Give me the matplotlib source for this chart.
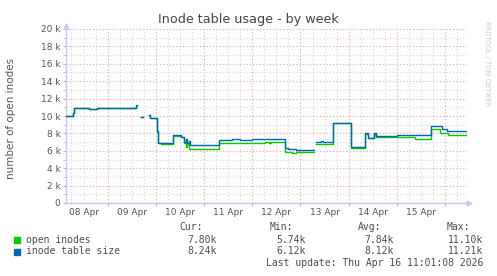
import numpy as np
import matplotlib
matplotlib.use("Agg")
import matplotlib.pyplot as plt
from matplotlib.patches import Rectangle

# hours since 08 Apr 00:00, values in thousands (nan = no data)
nan = np.nan
open_t = [3.3, 6.9, 7.2, 14.7, 18.7, 38.2, 38.6, 40.6, 41.6, 44.4, 45.0, 48.7, 49.3, 50.5,
          56.4, 60.4, 62.0, 62.8, 63.5, 64.5, 79.6, 102.3, 104.3, 105.2, 112.3, 116.0, 118.0,
          126.9, 127.7, 136.0, 144.7, 145.2, 150.6, 152.1, 153.5, 156.6, 157.6, 172.0, 177.0,
          184.3, 185.0, 189.5, 193.5, 202.9]
open_v = [9.95, 10.3, 10.9, 10.85, 10.95, 11.1, nan, 9.9, nan, 10.1, 9.75, 8.2, 6.85, 6.8,
          7.75, 7.55, 6.9, 6.45, 6.75, 6.2, 6.85, 6.97, 6.9, 6.97, 5.9, 5.74, 5.85,
          nan, 6.75, 9.2, 9.2, 6.3, 6.28, 7.9, 7.45, 7.95, 7.62, 7.55, 7.3,
          7.3, 8.55, 8.05, 7.78, 7.78]

size_t = [3.3, 6.9, 7.2, 14.7, 18.7, 38.2, 38.6, 40.6, 41.6, 44.4, 45.0, 48.7, 49.3, 50.5,
          56.4, 60.4, 62.0, 63.0, 63.7, 64.5, 65.2, 66.5, 79.6, 86.0, 90.0, 95.7, 112.3, 114.0,
          116.0, 118.0, 126.9, 127.7, 130.0, 131.0, 136.0, 144.7, 145.2, 150.6, 152.1, 153.5,
          156.6, 157.6, 167.9, 185.0, 190.3, 192.8, 202.9]
size_v = [10.0, 10.4, 10.95, 10.8, 10.95, 11.21, nan, 9.9, nan, 10.1, 9.8, 8.3, 6.95, 6.9,
          7.8, 7.55, 7.05, 7.3, 6.85, 7.1, 6.7, 6.65, 7.25, 7.3, 7.25, 7.32, 6.28, 6.2,
          6.25, 6.12, nan, 7.05, 7.15, 7.05, 9.25, 9.25, 6.47, 6.47, 8.0, 7.5,
          8.08, 7.7, 7.8, 8.85, 8.5, 8.24, 8.24]

day_labels = ["08 Apr", "09 Apr", "10 Apr", "11 Apr", "12 Apr", "13 Apr", "14 Apr", "15 Apr"]
y_ticks = [0, 2, 4, 6, 8, 10, 12, 14, 16, 18, 20]

legend_names = ["open inodes", "inode table size"]
legend_cur = ["7.80k", "8.24k"]
legend_min = ["5.74k", "6.12k"]
legend_avg = ["7.84k", "8.12k"]
legend_max = ["11.10k", "11.21k"]
colors = ["#00CC00", "#0066B3"]

W, H = 497, 276
fig = plt.figure(figsize=(W / 100, H / 100), dpi=100)
fig.patch.set_facecolor("white")


def fx(x):
    return x / W


def fy(y):
    return 1 - y / H


ax = fig.add_axes([fx(66), fy(203), fx(467) - fx(66), (203 - 29) / H])
ax.set_facecolor("white")

ax.plot(open_t, open_v, drawstyle="steps-post", color=colors[0], lw=1.0, zorder=3)
ax.plot(size_t, size_v, drawstyle="steps-post", color=colors[1], lw=1.0, zorder=4)

ax.set_xlim(3.28, 202.9)
ax.set_ylim(0, 20)

# grid: red at day / 2k, grey at 6h / 1k
ax.set_xticks(np.arange(24, 203, 24))
ax.set_xticks(np.arange(6, 203, 6), minor=True)
ax.set_xticklabels([])
ax.set_yticks(y_ticks)
ax.set_yticks(np.arange(1, 20, 2), minor=True)
ax.set_yticklabels([("%d k" % v) if v else "0" for v in y_ticks])
ax.grid(which="major", color="#e8a0a0", lw=0.8, ls=(0, (1, 2)))
ax.grid(which="minor", color="#d4d4d4", lw=0.8, ls=(0, (1, 2)))
ax.set_axisbelow(True)
ax.tick_params(axis="y", which="both", length=2, color="#d0b0b0", labelsize=6.5,
               labelcolor="#555555", pad=2)
ax.tick_params(axis="x", which="major", length=2, color="#e8a0a0")
ax.tick_params(axis="x", which="minor", length=0)

for i, lab in enumerate(day_labels):
    ax.text(12 + 24 * i, -0.6, lab, ha="center", va="top", fontsize=6.5, color="#555555",
            clip_on=False)

for s in ["top", "right"]:
    ax.spines[s].set_visible(False)
for s in ["left", "bottom"]:
    ax.spines[s].set_color("#c8c8f4")
    ax.spines[s].set_linewidth(1)
ax.plot(1.006, 0, ">", transform=ax.transAxes, color="#c8c8f4", ms=3.5, clip_on=False)
ax.plot(0, 1.02, "^", transform=ax.transAxes, color="#c8c8f4", ms=3.5, clip_on=False)

fig.text(fx(248), fy(19), "Inode table usage - by week", ha="center", va="center",
         fontsize=9.2, color="#444444")
fig.text(fx(11), fy(118), "number of open inodes", rotation=90, ha="center", va="center",
         fontsize=7.5, color="#555555")
fig.text(fx(487), fy(64), "RRDTOOL / TOBI OETIKER", rotation=-90, ha="center", va="center",
         fontsize=4.8, color="#c8c8c8")

mono = dict(family="DejaVu Sans Mono", fontsize=7, color="#4d4d4d", va="center")
for head, xr in zip(["Cur:", "Min:", "Avg:", "Max:"], [203, 293, 381, 470]):
    fig.text(fx(xr), fy(227), head, ha="right", **mono)
rows_y = [240, 251.5]
for i in range(2):
    fig.patches.append(Rectangle((fx(14), fy(rows_y[i] + 3)), 6 / W, 6 / H,
                                 transform=fig.transFigure, color=colors[i]))
    fig.text(fx(26.5), fy(rows_y[i]), legend_names[i], ha="left", **mono)
    for vals, xr in zip([legend_cur, legend_min, legend_avg, legend_max], [217, 306, 394, 483]):
        fig.text(fx(xr), fy(rows_y[i]), vals[i], ha="right", **mono)
fig.text(fx(483), fy(263.5), "Last update: Thu Apr 16 11:01:08 2026", ha="right", **mono)

fig.savefig("out.png", dpi=100)
